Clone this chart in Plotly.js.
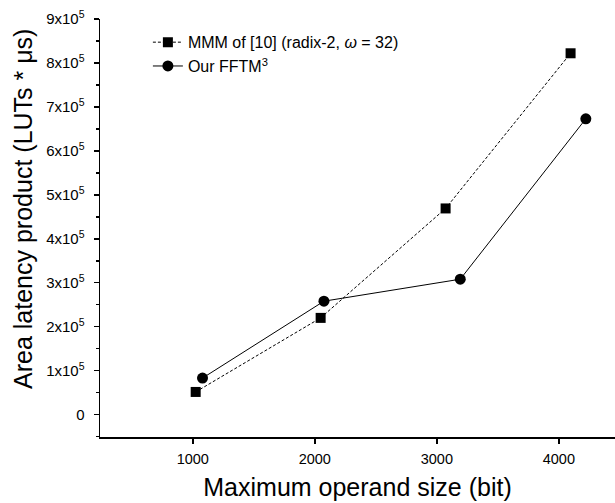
<!DOCTYPE html>
<html>
<head>
<meta charset="utf-8">
<script src="https://cdn.plot.ly/plotly-3.0.1.min.js"></script>
<style>html,body{margin:0;padding:0;background:#fff;}#chart{width:615px;height:503px;}</style>
</head>
<body>
<div id="chart"></div>
<script>
// Data
const mmmX = [1024, 2048, 3072, 4096];
const mmmY = [51500, 220000, 469000, 822000];
const oursX = [1080, 2075, 3192, 4221];
const oursY = [83000, 258000, 308000, 673000];

const mmmName = "MMM of [10] (radix-2, <i>ω</i> = 32)";
const oursName = "Our FFTM<sup>3</sup>";

const xTickVals = [1000, 2000, 3000, 4000];
const xTickText = ["1000", "2000", "3000", "4000"];
const yTickVals = [0, 100000, 200000, 300000, 400000, 500000, 600000, 700000, 800000, 900000];
const yTickText = ["0", "1x10<sup>5</sup>", "2x10<sup>5</sup>", "3x10<sup>5</sup>", "4x10<sup>5</sup>",
  "5x10<sup>5</sup>", "6x10<sup>5</sup>", "7x10<sup>5</sup>", "8x10<sup>5</sup>", "9x10<sup>5</sup>"];
const xTitle = "Maximum operand size (bit)";
const yTitle = "Area latency product (LUTs * μs)";

const font = "Arial, 'Liberation Sans', sans-serif";

const traces = [
  {
    x: mmmX, y: mmmY, name: mmmName, type: "scatter", mode: "lines+markers",
    line: {color: "#000", width: 1, dash: "3px,2px"},
    marker: {symbol: "square", size: 10, color: "#000"}
  },
  {
    x: oursX, y: oursY, name: oursName, type: "scatter", mode: "lines+markers",
    line: {color: "#000", width: 1},
    marker: {symbol: "circle", size: 11, color: "#000"}
  }
];

const layout = {
  width: 615, height: 503,
  margin: {l: 100, r: 0, t: 19, b: 66},
  paper_bgcolor: "#fff", plot_bgcolor: "#fff",
  font: {family: font, color: "#000", size: 14},
  showlegend: true,
  legend: {x: 0.093, y: 0.985, xanchor: "left", yanchor: "top", bgcolor: "rgba(0,0,0,0)",
    font: {family: font, size: 16, color: "#000"}, tracegroupgap: 0},
  xaxis: {
    range: [240, 4460], tickmode: "array", tickvals: xTickVals, ticktext: xTickText,
    showgrid: false, zeroline: false, showline: true, linecolor: "#000", linewidth: 1.5,
    ticks: "outside", ticklen: 5, tickwidth: 1.5, tickcolor: "#000",
    ticklabelstandoff: 3,
    tickfont: {family: font, size: 14.5, color: "#000"},
    title: {text: xTitle, font: {family: font, size: 25, color: "#000"}, standoff: 12}
  },
  yaxis: {
    range: [-51000, 900000], tickmode: "array", tickvals: yTickVals, ticktext: yTickText,
    showgrid: false, zeroline: false, showline: true, linecolor: "#000", linewidth: 1.5,
    ticks: "outside", ticklen: 5, tickwidth: 1.5, tickcolor: "#000",
    ticklabelstandoff: 6,
    tickfont: {family: font, size: 15, color: "#000"},
    minor: {tickmode: "linear", tick0: 0, dtick: 50000, ticks: "outside", ticklen: 3, tickwidth: 1.5, tickcolor: "#000", showgrid: false}
  },
  annotations: [{
    text: yTitle, textangle: -90, xref: "paper", yref: "paper",
    x: -0.15, y: 0.545, xanchor: "center", yanchor: "middle", showarrow: false,
    font: {family: font, size: 25, color: "#000"}
  }]
};

Plotly.newPlot("chart", traces, layout, {displayModeBar: false, staticPlot: true});
</script>
</body>
</html>
